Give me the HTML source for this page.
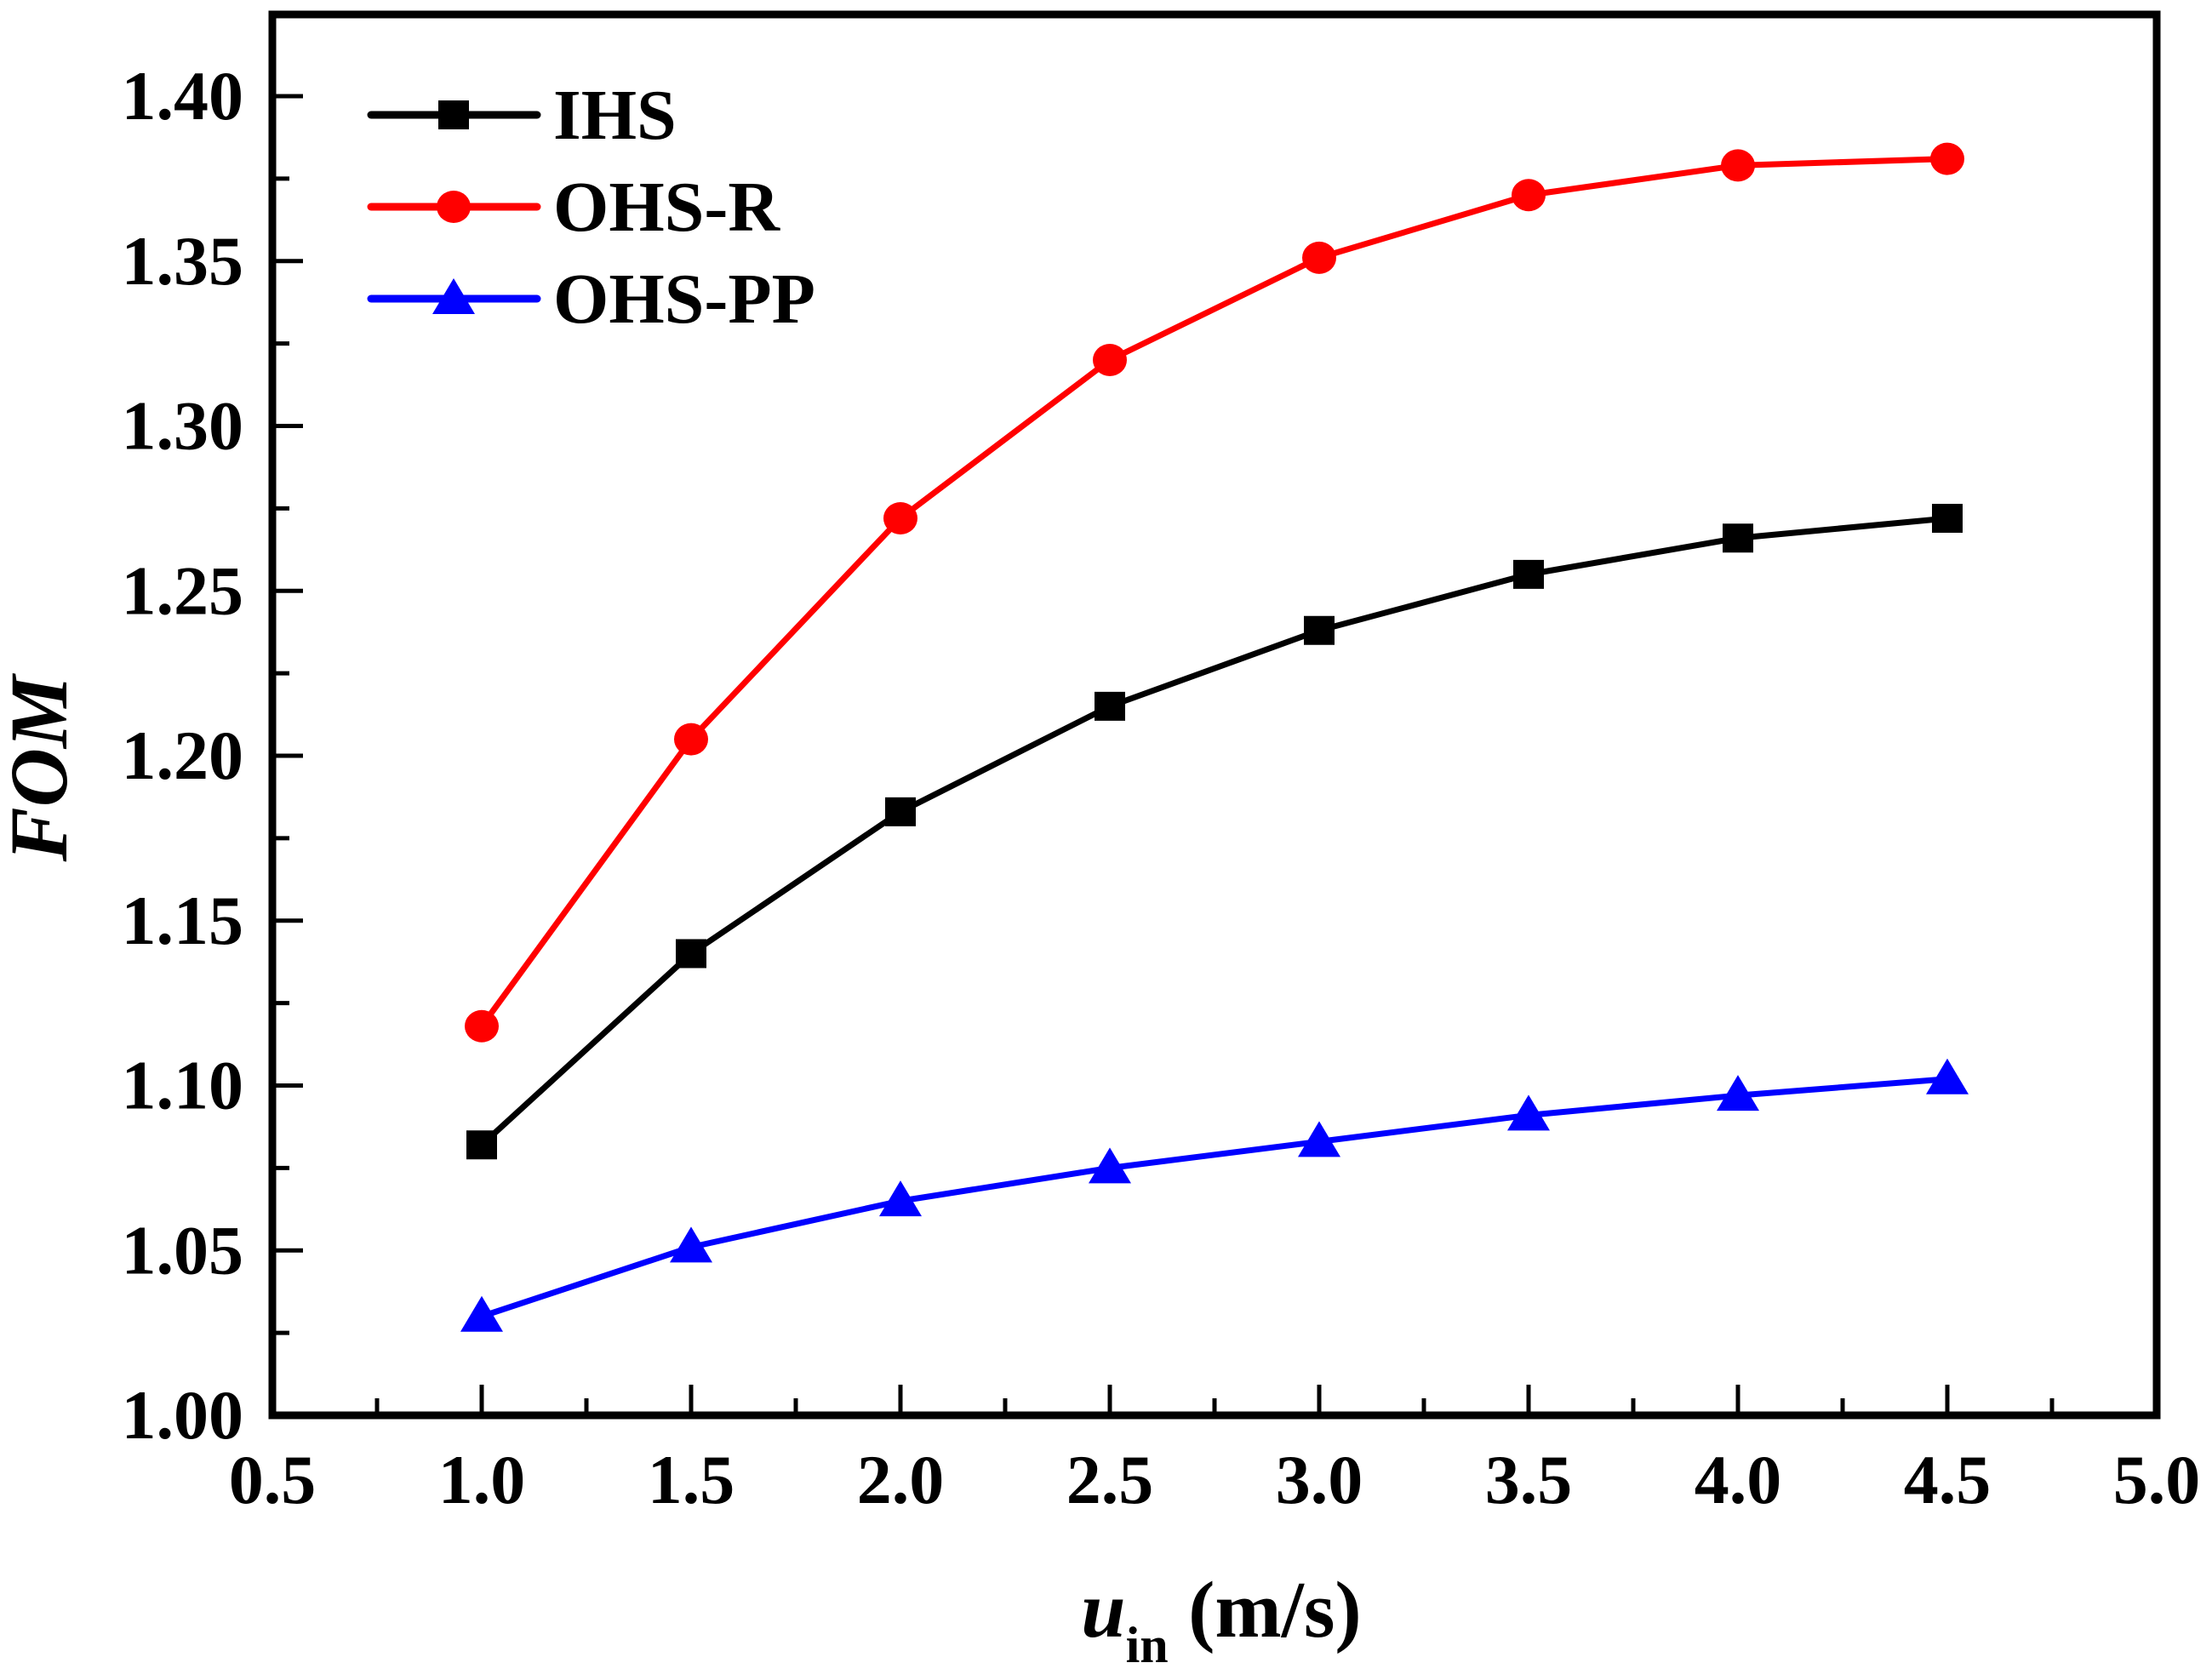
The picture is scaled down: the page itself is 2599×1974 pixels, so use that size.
<!DOCTYPE html>
<html><head><meta charset="utf-8"><style>
html,body{margin:0;padding:0;background:#fff;}
svg{display:block;}
text{font-family:"Liberation Serif",serif;font-weight:bold;fill:#000;}
</style></head><body>
<svg id="chart" width="2599" height="1974" viewBox="0 0 2599 1974" xmlns="http://www.w3.org/2000/svg">
<g id="grid"></g>
<g id="series"></g>
<g id="legend"></g>
<text transform="translate(78,903) rotate(-90)" text-anchor="middle" font-size="96" font-style="italic">FOM</text>
<text x="1435" y="1923" text-anchor="middle" font-size="94"><tspan font-style="italic">u</tspan><tspan font-size="60" dy="30">in</tspan><tspan dy="-30"> (m/s)</tspan></text>
</svg>
<script>
const xCats=[1.0,1.5,2.0,2.5,3.0,3.5,4.0,4.5];
const ihs=[1.082,1.140,1.183,1.215,1.238,1.255,1.266,1.272];
const ohsR=[1.118,1.205,1.272,1.320,1.351,1.370,1.379,1.381];
const ohsPP=[1.030,1.051,1.065,1.075,1.083,1.091,1.097,1.102];
const xTicks=["0.5","1.0","1.5","2.0","2.5","3.0","3.5","4.0","4.5","5.0"];
const yTicks=["1.00","1.05","1.10","1.15","1.20","1.25","1.30","1.35","1.40"];
const seriesNames=["IHS","OHS-R","OHS-PP"];

const L=320,R=2534,B=1663,T=17;
const sx=v=>L+(v-0.5)/4.5*(R-L);
const sy=v=>B-(v-1.0)/0.4*(B-113);
const NS="http://www.w3.org/2000/svg";
function mk(tag,attrs,parent){const e=document.createElementNS(NS,tag);for(const k in attrs)e.setAttribute(k,attrs[k]);parent.appendChild(e);return e;}
const g=document.getElementById('grid');
xTicks.forEach((t,i)=>{const v=parseFloat(t);const x=sx(v);
 if(i>0&&i<xTicks.length-1){const tk=mk('line',{x1:x,x2:x,y1:B,y2:B-36,stroke:'#000','stroke-width':5},g);
 
 }
 if(i<xTicks.length-1){const xm=sx(v+0.25);const mt=mk('line',{x1:xm,x2:xm,y1:B,y2:B-20,stroke:'#000','stroke-width':5},g);
 
 }
 const lb=mk('text',{x:x,y:1766,'text-anchor':'middle','font-size':82},g);lb.textContent=t;
 
 
});
yTicks.forEach((t,i)=>{const v=parseFloat(t);const y=sy(v);
 if(i>0){const tk=mk('line',{x1:L,x2:L+36,y1:y,y2:y,stroke:'#000','stroke-width':5},g);
 
 }
 const ym=sy(v+0.025);const mt=mk('line',{x1:L,x2:L+20,y1:ym,y2:ym,stroke:'#000','stroke-width':5},g);
 
 
 const lb=mk('text',{x:286,y:y+27,'text-anchor':'end','font-size':82},g);lb.textContent=t;
 
 
});
const frame=mk('rect',{x:L,y:T,width:R-L,height:B-T,fill:'none',stroke:'#000','stroke-width':9},g);



const sg=document.getElementById('series');
function marker(kind,x,y,color,parent){
 let m;
 if(kind==='sq')m=mk('rect',{x:x-18,y:y-17,width:36,height:34,fill:color},parent);
 else if(kind==='ci')m=mk('ellipse',{cx:x,cy:y,rx:20,ry:19,fill:color},parent);
 else m=mk('polygon',{points:`${x},${y-24} ${x-25},${y+18} ${x+25},${y+18}`,fill:color},parent);
 return m;
}
const defs=[[ihs,'#000','sq','ihs'],[ohsR,'#ff0000','ci','ohs-r'],[ohsPP,'#0000ff','tr','ohs-pp']];
defs.forEach(([vals,col,kind,nm])=>{
 const pts=vals.map((v,i)=>sx(xCats[i])+','+sy(v)).join(' ');
 const pl=mk('polyline',{points:pts,fill:'none',stroke:col,'stroke-width':7,'stroke-linejoin':'round'},sg);
 
 
 vals.forEach((v,i)=>{const m=marker(kind,sx(xCats[i]),sy(v),col,sg);
  
  });
});
const lg=document.getElementById('legend');
defs.forEach(([vals,col,kind,nm],i)=>{
 const y=135+i*108;
 const ln=mk('line',{x1:436,x2:631,y1:y,y2:y,stroke:col,'stroke-width':9,'stroke-linecap':'round'},lg);
 
 
 const m=marker(kind,533,y,col,lg);
 
 
 const t=mk('text',{x:650,y:y+28,'font-size':84},lg);t.textContent=seriesNames[i];
 
 
});
</script>
</body></html>
